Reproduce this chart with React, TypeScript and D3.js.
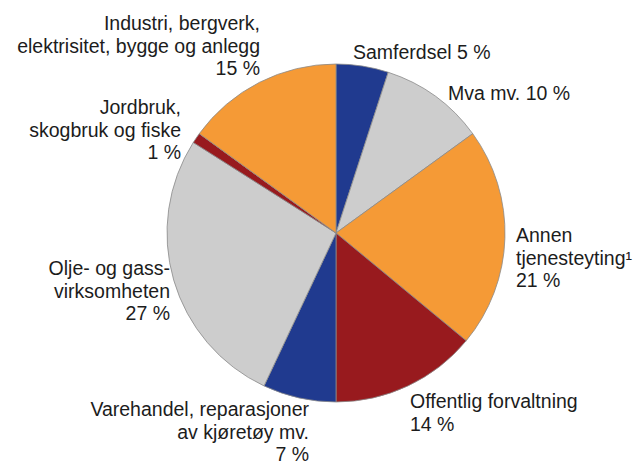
import * as d3 from 'd3';
import { useEffect, useRef } from 'react';

// andel av verdiskapingen, prosent (fra toppen, med klokka)
const sectors = [
    'Samferdsel',
    'Mva mv.',
    'Annen tjenesteyting',
    'Offentlig forvaltning',
    'Varehandel',
    'Olje og gass',
    'Jordbruk',
    'Industri'
];
const shares = [5, 10, 21, 14, 7, 27, 1, 15];
const colors = ['#203a8f', '#cdcdcd', '#f59a36', '#981a1e', '#203a8f', '#cdcdcd', '#981a1e', '#f59a36'];

const labelLines = [
    ['Samferdsel 5 %'],
    ['Mva mv. 10 %'],
    ['Annen', 'tjenesteyting\u00b9', '21 %'],
    ['Offentlig forvaltning', '14 %'],
    ['Varehandel, reparasjoner', 'av kjøretøy mv.', '7 %'],
    ['Olje- og gass-', 'virksomheten', '27 %'],
    ['Jordbruk,', 'skogbruk og fiske', '1 %'],
    ['Industri, bergverk,', 'elektrisitet, bygge og anlegg', '15 %']
];
// label anchor points [x, y of first baseline, anchor]
const labelPos: [number, number, string][] = [
    [353, 59, 'start'],
    [448, 100, 'start'],
    [516, 242, 'start'],
    [410, 408, 'start'],
    [309, 416, 'end'],
    [170, 275, 'end'],
    [181, 114, 'end'],
    [260, 30, 'end']
];

export default function App() {
    const ref = useRef<HTMLDivElement>(null);

    useEffect(() => {
        const width = 633;
        const height = 466;
        const cx = 336;
        const cy = 233;
        const radius = 169;
        const lineHeight = 22.7;

        const el = ref.current!;
        el.innerHTML = '';

        const svg = d3
            .select(el)
            .append('svg')
            .attr('width', width)
            .attr('height', height);

        const pie = d3.pie<number>().sort(null).value(d => d);
        const arc = d3.arc<d3.PieArcDatum<number>>().innerRadius(0).outerRadius(radius);

        svg
            .append('g')
            .attr('transform', `translate(${cx},${cy})`)
            .selectAll('path')
            .data(pie(shares))
            .join('path')
            .attr('d', arc)
            .attr('fill', (d, i) => colors[i])
            .attr('stroke', '#8a8a8a')
            .attr('stroke-width', 0.8);

        const labels = svg
            .append('g')
            .attr('font-family', '"Liberation Sans", Arial, sans-serif')
            .attr('font-size', 19.5)
            .attr('fill', '#1c1c1c')
            .selectAll('text')
            .data(sectors)
            .join('text')
            .attr('text-anchor', (d, i) => labelPos[i][2]);

        labels
            .selectAll('tspan')
            .data((d, i) => labelLines[i].map(t => ({ t, x: labelPos[i][0], y: labelPos[i][1] })))
            .join('tspan')
            .attr('x', d => d.x)
            .attr('y', (d, j) => d.y + j * lineHeight)
            .text(d => d.t);
    }, []);

    return <div ref={ref} style={{ position: 'absolute', left: 0, top: 0 }}></div>;
}
